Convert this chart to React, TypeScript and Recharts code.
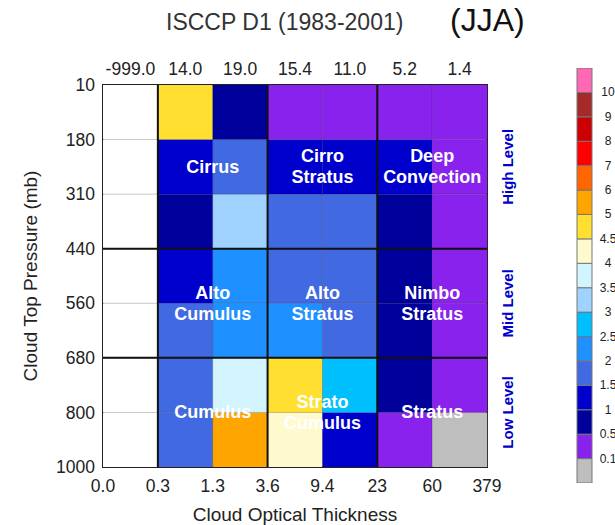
import {
  BarChart, Bar, Cell, XAxis, YAxis, ReferenceLine, ReferenceArea, ReferenceDot,
} from 'recharts';

const FONT = '"Liberation Sans", Arial, Helvetica, sans-serif';

// column totals printed along the top
const colTotals = ['-999.0', '14.0', '19.0', '15.4', '11.0', '5.2', '1.4'];
// optical thickness bin edges (bottom axis)
const tauEdges = ['0.0', '0.3', '1.3', '3.6', '9.4', '23', '60', '379'];
// pressure bin edges, bottom to top
const pressEdges = ['1000', '800', '680', '560', '440', '310', '180', '10'];

// cloud amount (%) per pressure layer, one value per tau bin; -999 = missing
const p10_180 = [-999, 4.7, 0.8, 0.3, 0.3, 0.3, 0.3];
const p180_310 = [-999, 1.2, 1.7, 1.2, 1.2, 1.2, 0.3];
const p310_440 = [-999, 0.8, 3.2, 1.7, 1.7, 0.8, 0.3];
const p440_560 = [-999, 1.2, 2.2, 1.7, 1.7, 0.8, 0.3];
const p560_680 = [-999, 1.7, 2.2, 2.2, 1.7, 0.8, 0.3];
const p680_800 = [-999, 1.7, 3.7, 4.7, 2.7, 0.8, 0.3];
const p800_1000 = [-999, 1.7, 5.5, 4.2, 1.2, 0.3, 0.05];

// bottom to top
const layers = [p800_1000, p680_800, p560_680, p440_560, p310_440, p180_310, p10_180];

// colour scale
const levels = [0.1, 0.5, 1, 1.5, 2, 2.5, 3, 3.5, 4, 4.5, 5, 6, 7, 8, 9, 10];
const levelColors = [
  '#bebebe', '#8a22ee', '#00009a', '#0000cd', '#4169e1', '#1e90ff', '#00bfff', '#a0d2ff',
  '#d2f4ff', '#fffacd', '#ffdf30', '#ffa500', '#ff6600', '#ff0000', '#cc0000', '#a52a2a', '#ff69b4',
];

// level groups (pressure bin index ranges) and tau groups (tau bin index ranges)
const levelNames = ['Low Level', 'Mid Level', 'High Level'];
const levelBounds = [[0, 2], [2, 4], [4, 7]];
const tauBounds = [[1, 3], [3, 5], [5, 7]];
const cloudNames = [
  [['Cumulus'], ['Strato', 'Cumulus'], ['Stratus']],
  [['Alto', 'Cumulus'], ['Alto', 'Stratus'], ['Nimbo', 'Stratus']],
  [['Cirrus'], ['Cirro', 'Stratus'], ['Deep', 'Convection']],
];

function colorFor(v: number) {
  if (v < 0) return '#ffffff';
  return levelColors[levels.filter(l => v >= l).length];
}

// one row per tau bin; "mid" is the bin centre on the 0..7 edge axis
const data = colTotals.map((t, ci) => {
  const row: Record<string, number | string> = { col: t, mid: ci + 0.5 };
  layers.forEach((_, li) => { row[`l${li}`] = 1; });
  return row;
});

const barData = [Object.fromEntries(levelColors.map((_, i) => [`c${i}`, 1]))];

const mid = (b: number[]) => (b[0] + b[1]) / 2;
const levelCenters = levelBounds.map(mid);

function LevelTick(props: any) {
  const { x, y, payload } = props;
  const idx = levelCenters.indexOf(payload.value);
  return (
    <text
      x={x + 21}
      y={y}
      transform={`rotate(-90 ${x + 21} ${y})`}
      textAnchor="middle"
      dominantBaseline="central"
      fill="#0000cc"
      fontWeight="bold"
      fontSize={15}
      fontFamily={FONT}
    >
      {levelNames[idx]}
    </text>
  );
}

function ScaleTick(props: any) {
  const { x, y, payload } = props;
  return (
    <text
      x={x + 16}
      y={y}
      textAnchor="middle"
      dominantBaseline="central"
      fill="#222"
      fontSize={12}
      fontFamily={FONT}
    >
      {String(levels[payload.value - 1])}
    </text>
  );
}

function cloudLabel(lines: string[]) {
  return (props: any) => {
    const { cx, cy } = props;
    const lh = 21;
    const y0 = cy - ((lines.length - 1) * lh) / 2;
    return (
      <text
        textAnchor="middle"
        dominantBaseline="central"
        fill="#ffffff"
        fontWeight="bold"
        fontSize={18}
        fontFamily={FONT}
      >
        {lines.map((s, i) => (
          <tspan key={s} x={cx} y={y0 + i * lh}>{s}</tspan>
        ))}
      </text>
    );
  };
}

const tickStyle = { fill: '#222', fontSize: 17.5, fontFamily: FONT };
const inner = [1, 2, 3, 4, 5, 6];

export default function App() {
  return (
    <div style={{ position: 'absolute', left: 0, top: 0, width: 615, height: 525, background: '#fff', fontFamily: FONT }}>
      <div style={{ position: 'absolute', left: 166, top: 9, fontSize: 23, color: '#333', whiteSpace: 'nowrap' }}>
        ISCCP D1 (1983-2001)
      </div>
      <div style={{ position: 'absolute', left: 450, top: 2, fontSize: 32, color: '#111', whiteSpace: 'nowrap' }}>
        (JJA)
      </div>

      <div style={{ position: 'absolute', left: 0, top: 0 }}>
        <BarChart
          width={615}
          height={525}
          data={data}
          barCategoryGap={0}
          barGap={0}
          margin={{ top: 55, right: 88, left: 25, bottom: 8 }}
        >
          <XAxis
            xAxisId="top"
            dataKey="col"
            orientation="top"
            height={30}
            axisLine={false}
            tickLine={false}
            tickSize={0}
            tickMargin={10}
            interval={0}
            tick={tickStyle}
          />
          <XAxis
            xAxisId="tau"
            dataKey="mid"
            type="number"
            domain={[0, 7]}
            ticks={[0, 1, 2, 3, 4, 5, 6, 7]}
            allowDataOverflow
            height={50}
            axisLine={false}
            tickLine={false}
            tickSize={0}
            tickMargin={13}
            interval={0}
            tickFormatter={(v: number) => tauEdges[v]}
            tick={tickStyle}
            label={{ value: 'Cloud Optical Thickness', position: 'insideBottom', offset: -4, fill: '#222', fontSize: 19, fontFamily: FONT }}
          />
          <YAxis
            yAxisId="p"
            type="number"
            domain={[0, 7]}
            ticks={[0, 1, 2, 3, 4, 5, 6, 7]}
            allowDataOverflow
            width={78}
            axisLine={false}
            tickLine={false}
            tickSize={0}
            tickMargin={8}
            interval={0}
            tickFormatter={(v: number) => pressEdges[v]}
            tick={tickStyle}
            label={{ value: 'Cloud Top Pressure (mb)', angle: -90, position: 'insideLeft', offset: 5, fill: '#222', fontSize: 19, fontFamily: FONT, style: { textAnchor: 'middle' } }}
          />
          <YAxis
            yAxisId="lvl"
            orientation="right"
            type="number"
            domain={[0, 7]}
            ticks={levelCenters}
            allowDataOverflow
            width={40}
            axisLine={false}
            tickLine={false}
            tickSize={0}
            tickMargin={0}
            interval={0}
            tick={<LevelTick />}
          />

          {layers.map((layer, li) => (
            <Bar
              key={li}
              xAxisId="top"
              yAxisId="p"
              dataKey={`l${li}`}
              stackId="a"
              isAnimationActive={false}
            >
              {layer.map((v, ci) => <Cell key={ci} fill={colorFor(v)} />)}
            </Bar>
          ))}

          {inner.map(i => (
            <ReferenceLine key={`h${i}`} xAxisId="tau" yAxisId="p" y={i} stroke="#000" strokeOpacity={0.22} strokeWidth={1} />
          ))}
          {inner.map(i => (
            <ReferenceLine key={`v${i}`} xAxisId="tau" yAxisId="p" x={i} stroke="#000" strokeOpacity={0.22} strokeWidth={1} />
          ))}
          {levelBounds.slice(1).map(b => (
            <ReferenceLine key={`lb${b[0]}`} xAxisId="tau" yAxisId="p" y={b[0]} stroke="#111" strokeWidth={2} />
          ))}
          {[1, ...tauBounds.slice(1).map(b => b[0])].map(x => (
            <ReferenceLine key={`tb${x}`} xAxisId="tau" yAxisId="p" x={x} stroke="#111" strokeWidth={2} />
          ))}
          <ReferenceArea xAxisId="tau" yAxisId="p" x1={0} x2={7} y1={0} y2={7} fill="none" fillOpacity={0} stroke="#222" strokeWidth={2} />

          {cloudNames.map((row, gi) =>
            row.map((lines, ti) => (
              <ReferenceDot
                key={`${gi}-${ti}`}
                xAxisId="tau"
                yAxisId="p"
                x={mid(tauBounds[ti])}
                y={levelCenters[gi]}
                r={0}
                shape={cloudLabel(lines)}
              />
            ))
          )}
        </BarChart>
      </div>

      <div style={{ position: 'absolute', left: 570, top: 60 }}>
        <BarChart
          width={45}
          height={430}
          data={barData}
          barCategoryGap={0}
          margin={{ top: 8, right: 0, left: 7, bottom: 7 }}
        >
          <XAxis hide />
          <YAxis
            orientation="right"
            type="number"
            domain={[0, levelColors.length]}
            ticks={levels.map((_, i) => i + 1)}
            allowDataOverflow
            width={23}
            axisLine={false}
            tickLine={false}
            tickSize={0}
            tickMargin={0}
            interval={0}
            tick={<ScaleTick />}
          />
          {levelColors.map((c, i) => (
            <Bar key={c} dataKey={`c${i}`} stackId="cb" fill={c} stroke="#777" strokeWidth={1} isAnimationActive={false} />
          ))}
        </BarChart>
      </div>
    </div>
  );
}
